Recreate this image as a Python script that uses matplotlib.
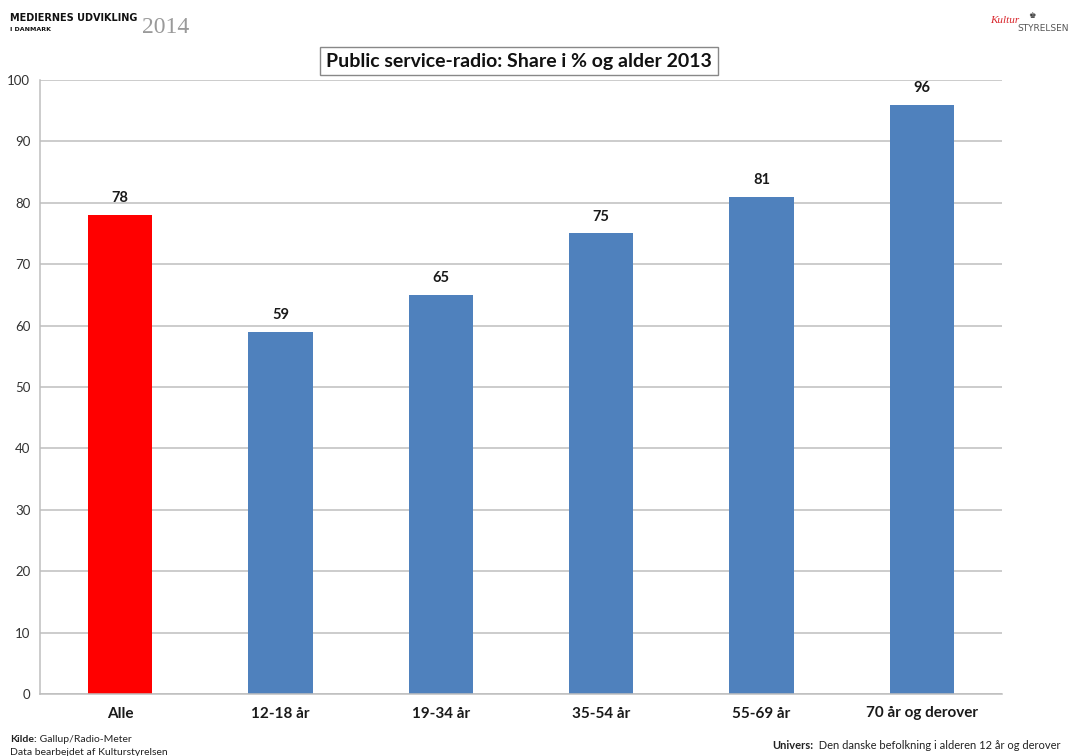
import matplotlib
matplotlib.use("Agg")
import matplotlib.pyplot as plt

# Data
categories = ["Alle", "12-18 år", "19-34 år", "35-54 år", "55-69 år", "70 år og derover"]
shares = [78, 59, 65, 75, 81, 96]
bar_colors = ["#FF0000", "#4F81BD", "#4F81BD", "#4F81BD", "#4F81BD", "#4F81BD"]
y_ticks = [0, 10, 20, 30, 40, 50, 60, 70, 80, 90, 100]

plt.rcParams["font.family"] = ["Lato", "DejaVu Sans"]

fig = plt.figure(figsize=(10.73, 7.56), dpi=100)
ax = fig.add_axes([40 / 1073, 1 - 694 / 756, (1002 - 40) / 1073, (694 - 80) / 756])

x = range(len(categories))
ax.bar(x, shares, width=0.4, color=bar_colors, zorder=2)

for xi, v in zip(x, shares):
    ax.text(xi, v + 1.6, f"{v}", ha="center", va="bottom", fontsize=10.5,
            fontweight="bold", color="#1a1a1a")

ax.set_xlim(-0.5, len(categories) - 0.5)
ax.set_ylim(0, 100)
ax.set_yticks(y_ticks)
ax.set_xticks(list(x))
ax.set_xticklabels(categories, fontsize=11, fontweight="bold", color="#1a1a1a")
ax.tick_params(axis="y", labelsize=9.5, colors="#333333", length=0, pad=7)
ax.tick_params(axis="x", length=0, pad=9)
ax.yaxis.grid(True, color="#BEBEBE", linewidth=1.1, zorder=0)
ax.set_axisbelow(True)
for side in ["top", "right"]:
    ax.spines[side].set_visible(False)
for side in ["left", "bottom"]:
    ax.spines[side].set_color("#BEBEBE")
    ax.spines[side].set_linewidth(1.1)

# Title in a framed box
fig.text(519 / 1073, 1 - 61 / 756, "Public service-radio: Share i % og alder 2013",
         ha="center", va="center", fontsize=14, fontweight="bold", color="#111111",
         bbox=dict(boxstyle="square,pad=0.3", facecolor="white", edgecolor="#888888",
                   linewidth=1.0))

# Header
fig.text(10 / 1073, 1 - 21 / 756, "MEDIERNES UDVIKLING", fontsize=7, fontweight="heavy",
         color="#111111", va="baseline", family=["DejaVu Sans"])
fig.text(10 / 1073, 1 - 31 / 756, "I DANMARK", fontsize=4.5, fontweight="heavy",
         color="#111111", va="baseline", family=["DejaVu Sans"])
fig.text(142 / 1073, 1 - 33 / 756, "2014", fontsize=17, color="#9A9A9A",
         va="baseline", family=["Liberation Serif", "DejaVu Serif"])
fig.text(990 / 1073, 1 - 23 / 756, "Kultur", fontsize=8, color="#D9262C",
         style="italic", va="baseline", family=["Liberation Serif", "DejaVu Serif"])
fig.text(1028 / 1073, 1 - 18 / 756, "♚", fontsize=6, color="#333333",
         va="baseline", family=["DejaVu Sans"])
fig.text(1017 / 1073, 1 - 31 / 756, "STYRELSEN", fontsize=6.5, color="#555555",
         va="baseline", family=["DejaVu Sans"])

# Footer notes: bold lead word followed by regular text
kilde = fig.text(10 / 1073, 1 - 742 / 756, "Kilde:", fontsize=7.5, fontweight="bold",
                 color="#222222", va="baseline")
ax.annotate(" Gallup/Radio-Meter", xy=(1, 0), xycoords=kilde, fontsize=7.5,
            color="#222222", va="bottom", ha="left", annotation_clip=False)
fig.text(10 / 1073, 1 - 755 / 756, "Data bearbejdet af Kulturstyrelsen", fontsize=7.5,
         color="#222222", va="baseline")
univ = fig.text(772 / 1073, 1 - 749 / 756, "Univers:", fontsize=8, fontweight="bold",
                color="#222222", va="baseline")
ax.annotate("  Den danske befolkning i alderen 12 år og derover", xy=(1, 0),
            xycoords=univ, fontsize=8, color="#222222", va="bottom", ha="left",
            annotation_clip=False)

fig.savefig("out.png", dpi=100, facecolor="white")
